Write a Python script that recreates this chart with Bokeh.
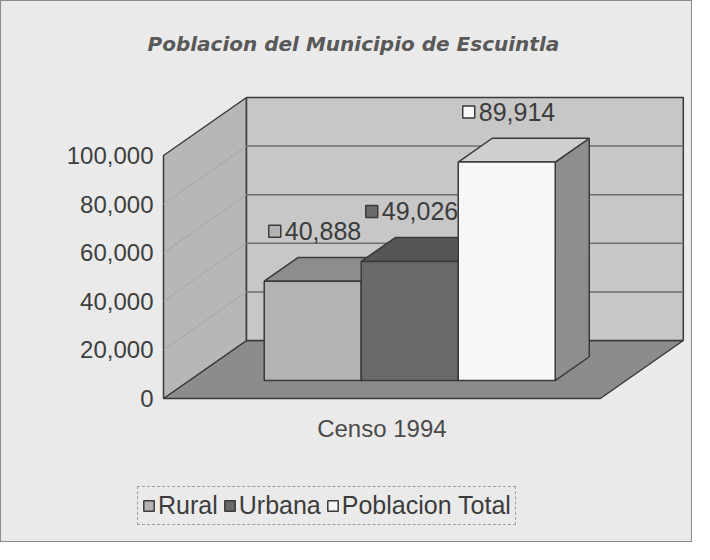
from bokeh.plotting import figure
from bokeh.models import Range1d, FixedTicker, NumeralTickFormatter, Legend, LegendItem
from bokeh.core.properties import value
from bokeh.embed import file_html
from bokeh.resources import INLINE

# ---------------- data ----------------
title_text = "Poblacion del Municipio de Escuintla"
category_label = "Censo 1994"
series_names = ["Rural", "Urbana", "Poblacion Total"]
series_values = [40888, 49026, 89914]
y_ticks = [0, 20000, 40000, 60000, 80000, 100000]
axis_max = 100000

front_colors = ["#b3b3b3", "#6a6a6a", "#f7f7f7"]
top_colors = ["#8d8d8d", "#565656", "#cfcfcf"]
side_colors = ["#7b7b7b", "#4a4a4a", "#8e8e8e"]

# ---------------- layout (pixels) ----------------
W, H = 692, 542
BORDER_L, BORDER_T = 126, 70
FRAME_W, FRAME_H = W - BORDER_L, H - BORDER_T
PX_X = 97.0                 # pixels per bar width
PX_Y = 243.0 / 100000.0     # pixels per person
ZERO_FROM_BOTTOM = 145      # px between frame bottom and the front zero line
WALL_FROM_LEFT = 36         # px between frame left and the left wall front edge
SLOT_FROM_WALL = 75         # px between wall front edge and first bar slot

x0 = -(WALL_FROM_LEFT + SLOT_FROM_WALL) / PX_X
y0 = -ZERO_FROM_BOTTOM / PX_Y

# 3-D projection: depth z in [0,1]
DZX = 83.0 / PX_X
DZY = 58.0 / PX_Y
Z0, Z1 = 0.31, 0.72
XL = -SLOT_FROM_WALL / PX_X
XR = 3.73


def proj(x, y, z):
    return x + z * DZX, y + z * DZY


def poly(pts):
    xs, ys = zip(*[proj(*p) for p in pts])
    return list(xs), list(ys)


bg = "#eaeaea"
p = figure(width=W, height=H, output_backend="svg", toolbar_location=None,
           x_range=Range1d(x0, x0 + FRAME_W / PX_X),
           y_range=Range1d(y0, y0 + FRAME_H / PX_Y),
           x_axis_location=None, min_border_left=BORDER_L, min_border_top=BORDER_T,
           min_border_right=0, min_border_bottom=0)
p.styles = {"border": "1px solid #8c8c8c", "background-color": bg}
p.background_fill_color = bg
p.border_fill_color = bg
p.outline_line_color = None
p.xgrid.visible = False
p.ygrid.visible = False

p.title.text = title_text
p.title.text_font = "DejaVu Sans"
p.title.text_font_style = "bold italic"
p.title.text_font_size = "20px"
p.title.text_color = "#595959"
p.title.align = "left"
p.title.offset = 20
p.title.standoff = 32

ax = p.yaxis[0]
ax.ticker = FixedTicker(ticks=y_ticks)
ax.formatter = NumeralTickFormatter(format="0,0")
ax.axis_line_color = None
ax.major_tick_line_color = None
ax.minor_tick_line_color = None
ax.major_tick_out = 0
ax.major_tick_in = 0
ax.major_label_standoff = -(WALL_FROM_LEFT - 10)
ax.major_label_text_font = "Liberation Sans"
ax.major_label_text_font_size = "24px"
ax.major_label_text_color = "#3e3e3e"

edge = "#3a3a3a"

# walls
fx, fy = poly([(XL, 0, 0), (XR, 0, 0), (XR, 0, 1), (XL, 0, 1)])
p.patch(fx, fy, fill_color="#8c8c8c", line_color=edge, line_width=1.5)
lx, ly = poly([(XL, 0, 0), (XL, axis_max, 0), (XL, axis_max, 1), (XL, 0, 1)])
p.patch(lx, ly, fill_color="#b7b7b7", line_color=edge, line_width=1.5)
bx, by = poly([(XL, 0, 1), (XR, 0, 1), (XR, axis_max, 1), (XL, axis_max, 1)])
p.patch(bx, by, fill_color="#c7c7c7", line_color=edge, line_width=1.5)

# gridlines
for t in y_ticks[1:-1]:
    a = proj(XL, t, 1)
    b = proj(XR, t, 1)
    p.line([a[0], b[0]], [a[1], b[1]], line_color="#6e6e6e", line_width=1.5)
    c = proj(XL, t, 0)
    p.line([c[0], a[0]], [c[1], a[1]], line_color="#a6a6a6", line_width=1)

# bars
items = []
for i, (name, v) in enumerate(zip(series_names, series_values)):
    xa, xb = i, i + 1
    sx, sy = poly([(xb, 0, Z0), (xb, v, Z0), (xb, v, Z1), (xb, 0, Z1)])
    p.patch(sx, sy, fill_color=side_colors[i], line_color=edge, line_width=1.5)
    tx, ty = poly([(xa, v, Z0), (xb, v, Z0), (xb, v, Z1), (xa, v, Z1)])
    p.patch(tx, ty, fill_color=top_colors[i], line_color=edge, line_width=1.5)
    qx, qy = poly([(xa, 0, Z0), (xb, 0, Z0), (xb, v, Z0), (xa, v, Z0)])
    r = p.patch(qx, qy, fill_color=front_colors[i], line_color=edge, line_width=1.5)
    items.append(LegendItem(label=name, renderers=[r]))

# data labels
lab_x, lab_y, icon_x = [], [], []
for i, v in enumerate(series_values):
    cx, cy = proj(i + 0.5, v, Z0)
    lab_x.append(cx - 28 / PX_X)
    icon_x.append(cx - 38 / PX_X)
    lab_y.append(cy + 50 / PX_Y)
p.scatter(icon_x, lab_y, marker="square", size=12, fill_color=front_colors,
          line_color=edge, line_width=1.5)
p.text(lab_x, lab_y, text=[f"{v:,}" for v in series_values],
       text_font=value("Liberation Sans"), text_font_size="25px",
       text_color="#3c3c3c", text_align="left", text_baseline="middle")

# category label
p.text([(XL + XR) / 2], [-30 / PX_Y], text=[category_label],
       text_font=value("Liberation Sans"), text_font_size="24px",
       text_color="#4a4a4a", text_align="center", text_baseline="middle")

legend = Legend(items=items, orientation="horizontal", location=(10, 18),
                padding=4, spacing=5, margin=0, label_standoff=3,
                glyph_width=13, glyph_height=13,
                label_text_font="Liberation Sans", label_text_font_size="25px",
                label_text_color="#3c3c3c",
                border_line_color="#555555", border_line_dash="4 3",
                background_fill_color=bg, background_fill_alpha=1.0)
p.add_layout(legend, "center")

open("out.html", "w").write(file_html(p, INLINE))
